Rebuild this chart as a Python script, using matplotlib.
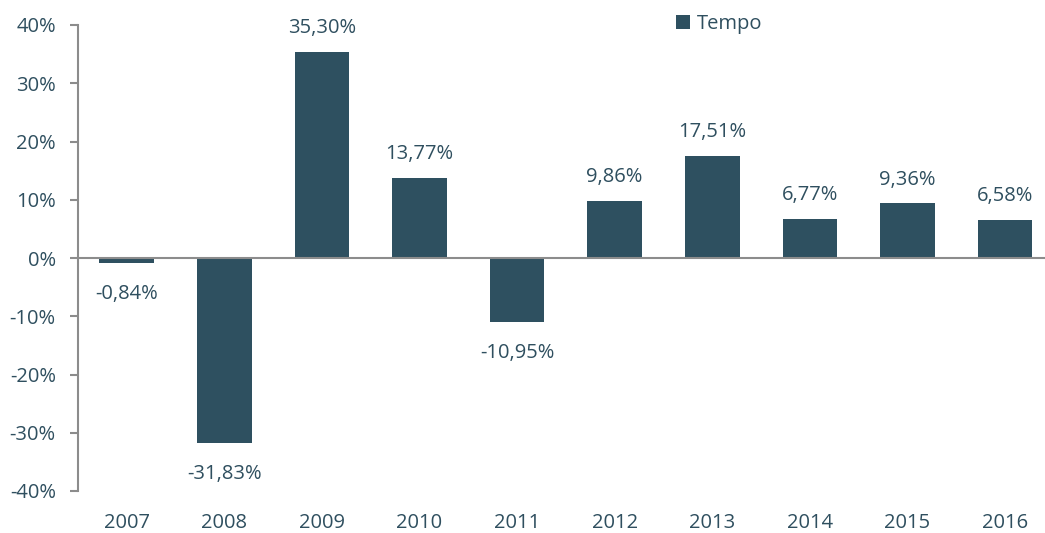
import matplotlib.pyplot as plt
import numpy as np

years = ['2007', '2008', '2009', '2010', '2011', '2012', '2013', '2014', '2015', '2016']
tempo = [-0.84, -31.83, 35.30, 13.77, -10.95, 9.86, 17.51, 6.77, 9.36, 6.58]
y_ticks = [-40, -30, -20, -10, 0, 10, 20, 30, 40]

bar_color = '#2e5060'
text_color = '#2f4f5f'
axis_color = '#8c8c8c'
fs = 14.5

plt.rcParams['font.family'] = ['Open Sans', 'DejaVu Sans']

fig = plt.figure(figsize=(10.45, 5.33), dpi=100)
ax = fig.add_axes([78 / 1045, 42 / 533, 967 / 1045, 466 / 533])

x = np.arange(len(years))
bars = ax.bar(x, tempo, width=0.56, color=bar_color, label='Tempo', zorder=2)

# value labels, above for positive and below for negative
for xi, v in zip(x, tempo):
    txt = f'{v:.2f}%'.replace('.', ',')
    if v >= 0:
        ax.annotate(txt, (xi, v), xytext=(0, 10), textcoords='offset points',
                    ha='center', va='bottom', fontsize=fs, color=text_color)
    else:
        ax.annotate(txt, (xi, v), xytext=(0, -15), textcoords='offset points',
                    ha='center', va='top', fontsize=fs, color=text_color)

ax.axhline(0, color=axis_color, linewidth=1.5, zorder=3)

ax.set_ylim(-40, 40)
ax.set_xlim(-0.5, 9.41)
ax.set_yticks(y_ticks)
ax.set_yticklabels([f'{t}%' for t in y_ticks])
ax.set_xticks(x)
ax.set_xticklabels(years)

ax.tick_params(axis='y', colors=axis_color, labelcolor=text_color, labelsize=fs,
               length=6, width=1.5, pad=10)
ax.tick_params(axis='x', length=0, labelcolor=text_color, labelsize=fs, pad=16)

for s in ['top', 'right', 'bottom']:
    ax.spines[s].set_visible(False)
ax.spines['left'].set_color(axis_color)
ax.spines['left'].set_linewidth(1.5)

ax.legend(loc='upper left', bbox_to_anchor=(0.6, 1.062), frameon=False,
          fontsize=fs, labelcolor=text_color, handlelength=0.7, handleheight=0.7,
          handletextpad=0.3)

fig.savefig('out.png', dpi=100)
